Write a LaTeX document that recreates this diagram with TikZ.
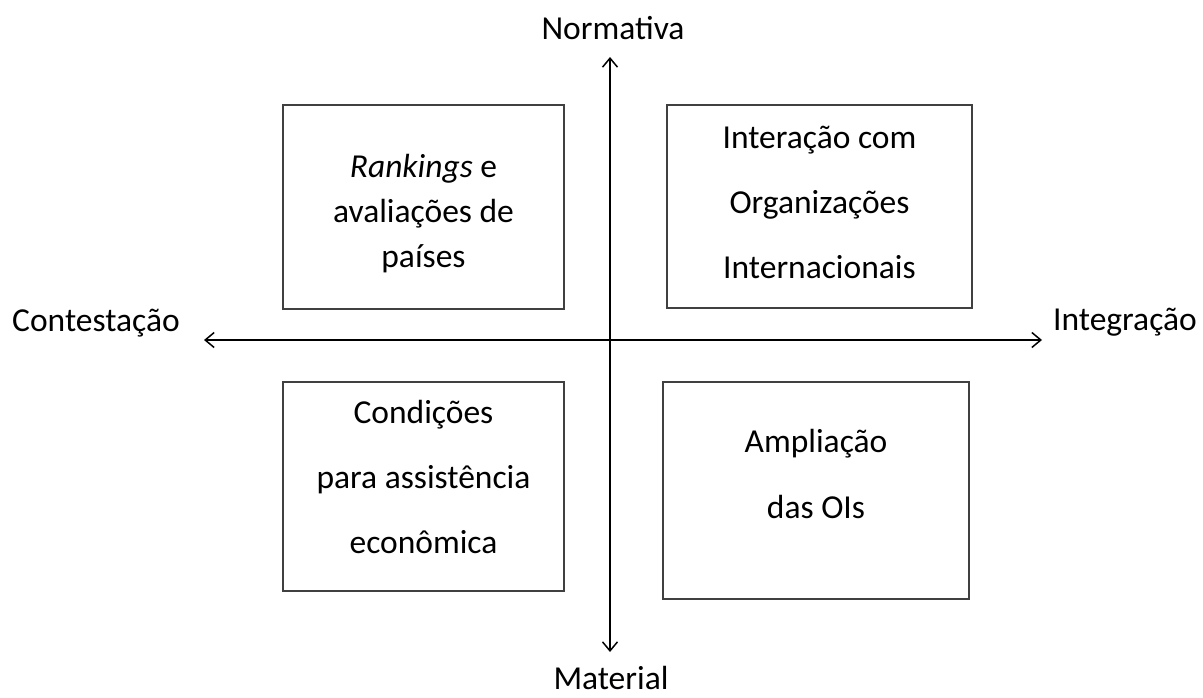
\documentclass[tikz,border=0pt]{standalone}
\usepackage{fontspec}
\setmainfont{Carlito}
\usetikzlibrary{arrows.meta}
\definecolor{boxgray}{HTML}{404040}
\begin{document}
\begin{tikzpicture}[x=1pt,y=-1pt,
  quad/.style={draw=boxgray,line width=1.8pt,rectangle,inner sep=0pt,outer sep=0pt},
  txt/.style={anchor=base,inner sep=0pt,font=\fontsize{33.5}{40}\selectfont,text=black},
  axis/.style={line width=1.5pt,{Straight Barb[length=9pt,width=15pt,line width=1.5pt]}-{Straight Barb[length=9pt,width=15pt,line width=1.5pt]}}]
\useasboundingbox (0,0) rectangle (1203,697);
% boxes
\node[quad,minimum width=281pt,minimum height=204pt] (tl) at (423.5,207) {};
\node[quad,minimum width=305pt,minimum height=203pt] (tr) at (819.5,206.5) {};
\node[quad,minimum width=281pt,minimum height=209pt] (bl) at (423.5,486.5) {};
\node[quad,minimum width=306pt,minimum height=217pt] (br) at (816,490.5) {};
% box texts
\node[txt] (tl1) at (423.5,177) {\textit{Rankings} e};
\node[txt] (tl2) at (423.5,222) {avaliações de};
\node[txt] (tl3) at (423.5,267) {países};
\node[txt] (tr1) at (819.5,148) {Interação com};
\node[txt] (tr2) at (819.5,213) {Organizações};
\node[txt] (tr3) at (819.5,278) {Internacionais};
\node[txt] (bl1) at (423.5,423) {Condições};
\node[txt] (bl2) at (423.5,488) {para assistência};
\node[txt] (bl3) at (423.5,553) {econômica};
\node[txt] (br1) at (816,452) {Ampliação};
\node[txt] (br2) at (816,518) {das OIs};
% axes
\coordinate (top) at (610,57);
\coordinate (bot) at (610,652);
\coordinate (lft) at (204,340);
\coordinate (rgt) at (1042,340);
\draw[axis] (bot) -- (top);
\draw[axis] (lft) -- (rgt);
% axis labels
\node[txt] (norm) at (613,39) {Normativa};
\node[txt] (mat) at (611,689) {Material};
\node[txt] (cont) at (96,331) {Contestação};
\node[txt] (integ) at (1125,330) {Integração};
\end{tikzpicture}
\end{document}
